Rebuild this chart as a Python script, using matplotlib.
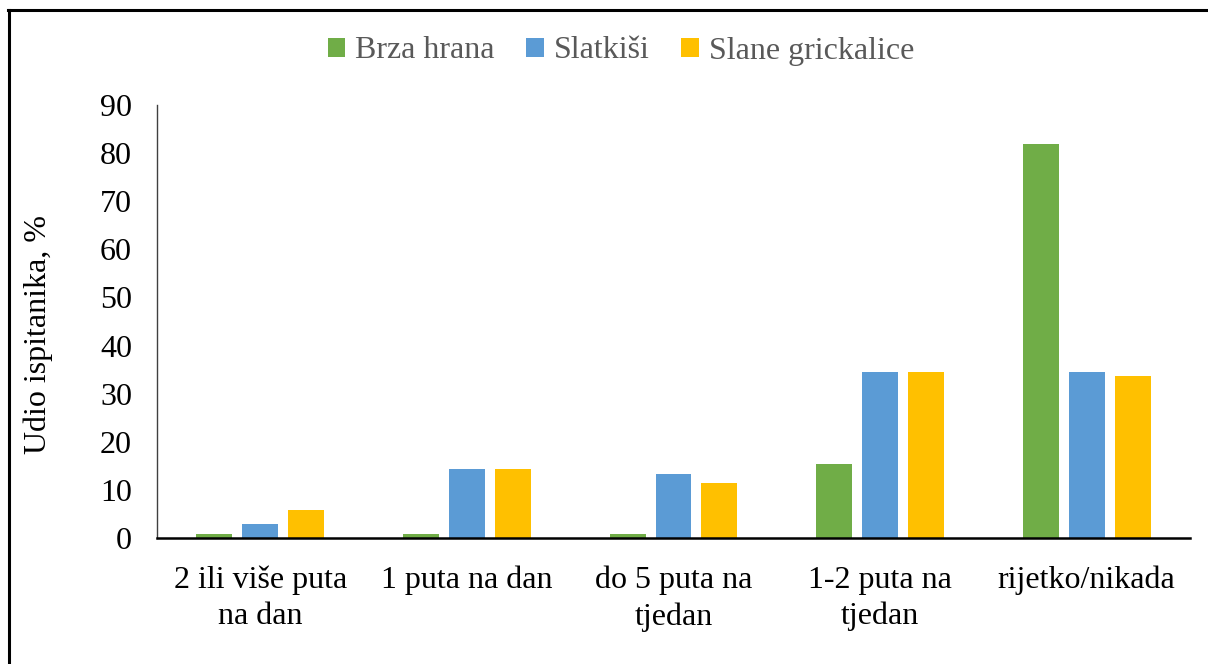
import matplotlib
matplotlib.use("Agg")
import matplotlib.pyplot as plt
import numpy as np
from matplotlib.lines import Line2D

categories = ["2 ili više puta\nna dan", "1 puta na dan", "do 5 puta na\ntjedan",
              "1-2 puta na\ntjedan", "rijetko/nikada"]
series_names = ["Brza hrana", "Slatkiši", "Slane grickalice"]
brza_hrana = [0.9, 0.9, 0.9, 15.4, 81.8]
slatkisi = [2.9, 14.4, 13.4, 34.6, 34.6]
slane = [5.8, 14.4, 11.4, 34.6, 33.6]
colors = ["#70AD47", "#5B9BD5", "#FFC000"]

plt.rcParams['font.family'] = ['Liberation Serif', 'DejaVu Serif']
FS = 23

fig = plt.figure(figsize=(12.08, 6.64), dpi=100)
ax = fig.add_axes([157/1208, 1-538/664, (1190-157)/1208, (538-105)/664])

x = np.arange(len(categories))
w = 0.174
off = 0.222
for i, (vals, name, c) in enumerate(zip([brza_hrana, slatkisi, slane], series_names, colors)):
    ax.bar(x + (i-1)*off, vals, width=w, color=c, label=name, zorder=2)

ax.set_xlim(-0.5, 4.5)
ax.set_ylim(0, 90)
ax.set_yticks(range(0, 91, 10))
ax.set_xticks(x)
ax.set_xticklabels(categories, fontsize=FS, linespacing=1.3)
ax.tick_params(axis='both', length=0, labelsize=FS)
ax.tick_params(axis='x', pad=20)
ax.tick_params(axis='y', pad=18)
for s in ['top', 'right']:
    ax.spines[s].set_visible(False)
ax.spines['left'].set_color('#404040')
ax.spines['left'].set_linewidth(1.0)
ax.spines['bottom'].set_color('black')
ax.spines['bottom'].set_linewidth(1.8)
ax.set_ylabel("Udio ispitanika, %", fontsize=FS)
ax.yaxis.set_label_coords(-0.101, 0.47)

leg = fig.legend(loc='center', bbox_to_anchor=(0.514, 1-51/664), ncol=3, frameon=False,
                 fontsize=FS, handlelength=0.55, handleheight=0.55, handletextpad=0.3,
                 columnspacing=1.0)
for t in leg.get_texts():
    t.set_color('#595959')

# border lines (top and left)
fig.add_artist(Line2D([8/1208, 1.0], [1-10/664, 1-10/664], color='black', lw=2.2,
                      transform=fig.transFigure))
fig.add_artist(Line2D([9/1208, 9/1208], [0.0, 1-10/664], color='black', lw=2.2,
                      transform=fig.transFigure))

fig.savefig("out.png", dpi=100)
